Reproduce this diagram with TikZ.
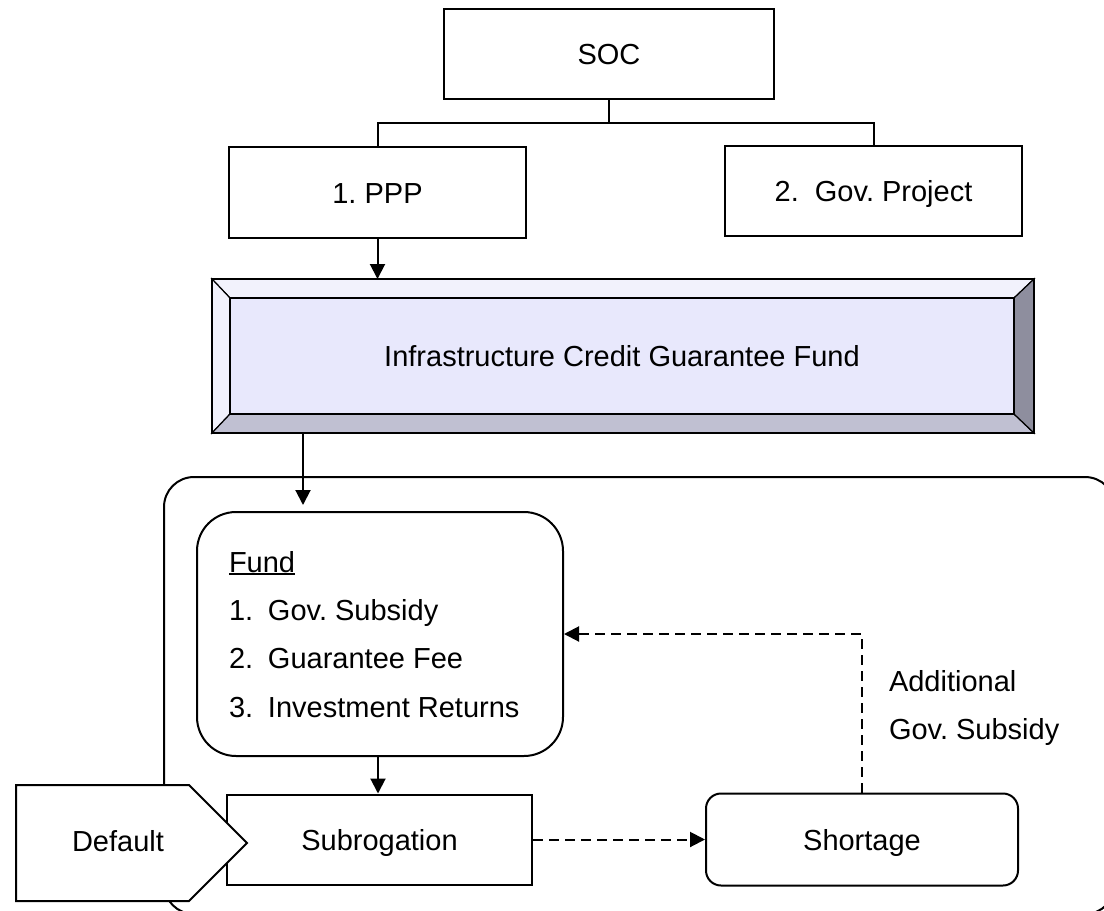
\documentclass[tikz,border=0pt]{standalone}
\usepackage{fontspec}
\setmainfont{Liberation Sans}
\usetikzlibrary{arrows.meta,calc}
\definecolor{bevelface}{HTML}{E8E8FC}
\definecolor{bevellight}{HTML}{F2F2FC}
\definecolor{bevelbottom}{HTML}{C0C0D2}
\definecolor{bevelright}{HTML}{8E8E9E}
\newcommand\fundul[1]{\setbox0\hbox{#1}\rlap{\rule[-3pt]{\wd0}{1.8pt}}\box0}
\frenchspacing
\tikzset{
  box/.style={draw, line width=2pt, fill=white, inner sep=0pt,
              text height=21pt, text depth=0pt},
  txt/.style={inner sep=0pt},
  arr/.style={-{Triangle[length=15pt,width=15pt]}, line width=2pt},
  dasharr/.style={arr, dash pattern=on 10pt off 6pt},
  bevel/.style={line width=1.2pt, line join=miter},
}
\begin{document}
\begin{tikzpicture}[x=1pt, y=-1pt, font=\fontsize{29}{34}\selectfont, line width=2pt]
\path[use as bounding box] (0,0) rectangle (1104,911);
\clip (0,0) rectangle (1104,911);

% outer frame around the fund mechanism
\draw[line width=2pt, rounded corners=30pt] (164,477) rectangle (1115,914);

% top hierarchy
\node[box, minimum width=330pt, minimum height=90pt] (soc) at (609,54) {SOC};
\node[box, minimum width=297pt, minimum height=91pt] (ppp) at (377.5,192.5) {1. PPP};
\node[box, minimum width=297pt, minimum height=90pt] (gov) at (873.5,191) {2.~~Gov. Project};
\coordinate (split) at (609,123);
\draw (soc.south) -- (split) -| (ppp.north);
\draw (split) -| (gov.north);

% bevelled guarantee fund panel
\node[minimum width=820pt, minimum height=152pt, inner sep=0pt] (icgfout) at (623,356) {};
\node[minimum width=782pt, minimum height=114pt, inner sep=0pt, fill=bevelface,
      text height=21pt, text depth=0pt] (icgf) at (622,356) {Infrastructure Credit Guarantee Fund};
\filldraw[bevel, fill=bevellight] (icgfout.north west) -- (icgfout.north east) -- (icgf.north east) -- (icgf.north west) -- cycle;
\filldraw[bevel, fill=bevellight] (icgfout.north west) -- (icgf.north west) -- (icgf.south west) -- (icgfout.south west) -- cycle;
\filldraw[bevel, fill=bevelbottom] (icgfout.south west) -- (icgf.south west) -- (icgf.south east) -- (icgfout.south east) -- cycle;
\filldraw[bevel, fill=bevelright] (icgfout.north east) -- (icgf.north east) -- (icgf.south east) -- (icgfout.south east) -- cycle;
\draw[line width=2.5pt] (icgfout.north west) rectangle (icgfout.south east);
\draw[line width=2.5pt] (icgf.north west) rectangle (icgf.south east);

\draw[arr] (ppp.south) -- (ppp.south |- icgfout.north);

% fund sources
\node[box, rounded corners=39pt, minimum width=366pt, minimum height=244pt] (fund) at (380,634) {};
\node[txt, anchor=base west] (fundhead) at (228,572) {\fundul{Fund}};
\node[txt, anchor=base west] (src1) at (228,620) {\makebox[39pt][l]{1.}Gov. Subsidy};
\node[txt, anchor=base west] (src2) at (228,668) {\makebox[39pt][l]{2.}Guarantee Fee};
\node[txt, anchor=base west] (src3) at (228,717) {\makebox[39pt][l]{3.}Investment Returns};

\coordinate (feed) at (303,0);
\draw[arr, shorten >=6pt] (icgfout.south -| feed) -- (fund.north -| feed);

% claim handling
\node[box, minimum width=305pt, minimum height=90pt] (subro) at (379.5,839.5) {Subrogation};
\node[box, rounded corners=15pt, minimum width=312pt, minimum height=92pt] (short) at (862,839.5) {Shortage};
\draw[arr] (fund.south -| 378,0) -- (subro.north -| 378,0);
\draw[dasharr] (subro.east) -- (short.west);
\draw[dasharr] (short.north) |- (fund.east);
\node[txt, anchor=base west] (addl1) at (888,691) {Additional};
\node[txt, anchor=base west] (addl2) at (888,739) {Gov. Subsidy};

% default trigger
\draw[fill=white, line width=2pt, line join=miter] (16,785) -- (189,785) -- (247,843) -- (189,901) -- (16,901) -- cycle;
\node[txt, text height=21pt, text depth=0pt] (dflt) at (118,841) {Default};
\end{tikzpicture}
\end{document}
